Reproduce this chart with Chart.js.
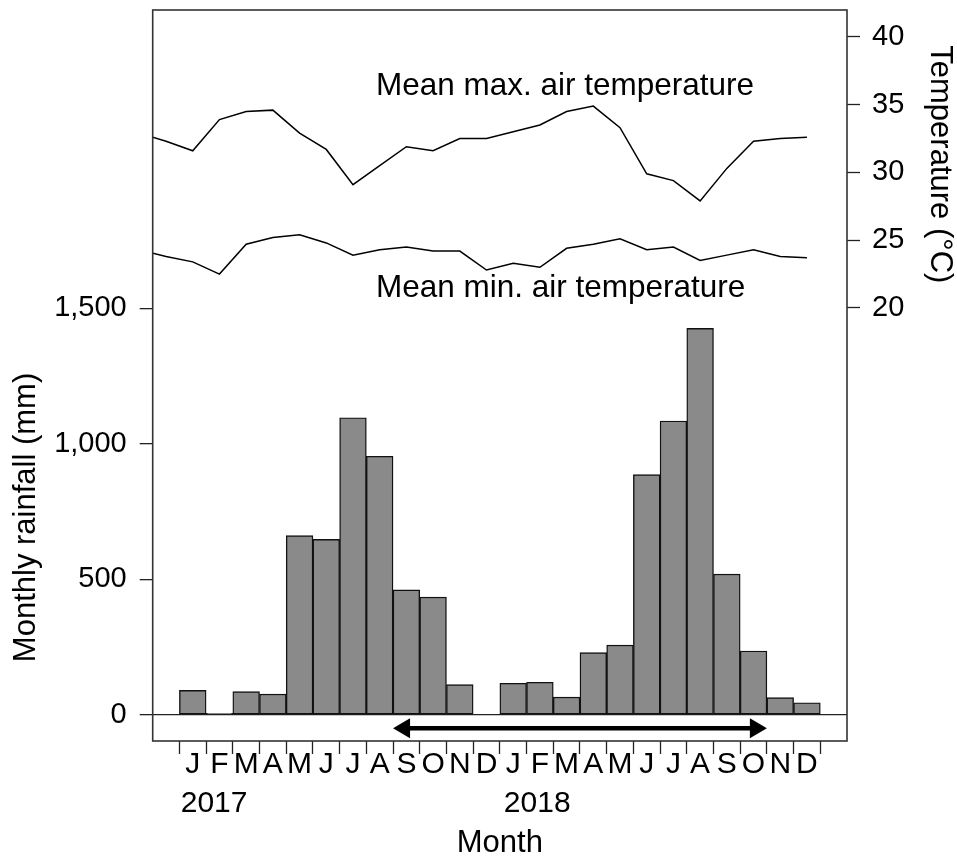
<!DOCTYPE html>
<html>
<head>
<meta charset="utf-8">
<script src="https://cdn.jsdelivr.net/npm/chart.js@4.4.0/dist/chart.umd.min.js"></script>
<style>
  html, body { margin: 0; padding: 0; background: #fff; }
  #wrap { width: 957px; height: 856px; }
</style>
</head>
<body>
<div id="wrap"><canvas id="myChart" width="957" height="856"></canvas></div>
<script>
// months Jan 2017 .. Dec 2018
var monthLabels = ["J", "F", "M", "A", "M", "J", "J", "A", "S", "O", "N", "D",
                   "J", "F", "M", "A", "M", "J", "J", "A", "S", "O", "N", "D"];
var yearLabels = ["2017", "2018"];
var rainfall = [90, 5, 85, 76, 661, 647, 1096, 954, 461, 434, 111, 0,
                116, 120, 65, 229, 257, 886, 1084, 1426, 519, 235, 63, 44];
// temperatures Nov 2016 .. Dec 2018 (first two months run off the left edge)
var maxTemp = [32.9, 32.3, 31.6, 33.9, 34.5, 34.6, 32.9, 31.7, 29.1, 30.5, 31.9, 31.6, 32.5, 32.5,
               33.0, 33.5, 34.5, 34.9, 33.3, 29.9, 29.4, 27.9, 30.3, 32.3, 32.5, 32.6];
var minTemp = [24.3, 23.8, 23.4, 22.5, 24.7, 25.2, 25.4, 24.8, 23.9, 24.3, 24.5, 24.2, 24.2, 22.8,
               23.3, 23.0, 24.4, 24.7, 25.1, 24.3, 24.5, 23.5, 23.9, 24.3, 23.8, 23.7];
var rainTicks = [0, 500, 1000, 1500];
var tempTicks = [20, 25, 30, 35, 40];
var arrowFrom = 8;   // Sep 2017
var arrowTo = 21;    // Oct 2018

var FONT = "'Liberation Sans', Arial, Helvetica, sans-serif";
Chart.defaults.font.family = FONT;
Chart.defaults.color = "#000";

// x ticks: bar edges (marks only), bar centres (month letters), year labels
var xTickValues = [];
var xTickText = [];
for (var i = 0; i <= monthLabels.length; i++) {
  xTickValues.push(i + 1);
  xTickText.push("");
  if (i < monthLabels.length) {
    xTickValues.push(i + 1.5);
    xTickText.push(monthLabels[i]);
  }
}
xTickValues.push(2.3, 14.4);
xTickText.push(["", yearLabels[0]], ["", yearLabels[1]]);

// no extra room for labels, the sizes below fix the plot box
function noPadding(scale) {
  scale.paddingTop = 0;
  scale.paddingBottom = 0;
  scale.paddingLeft = 0;
  scale.paddingRight = 0;
}

var extras = {
  id: "extras",
  afterDraw: function(chart) {
    var ctx = chart.ctx;
    var a = chart.chartArea;
    var x = chart.scales.x;
    var yRain = chart.scales.yRain;
    var yTemp = chart.scales.yTemp;
    ctx.save();

    // frame
    ctx.strokeStyle = "#333";
    ctx.lineWidth = 1.6;
    ctx.strokeRect(a.left, a.top, a.right - a.left, a.bottom - a.top);

    // double arrow under the bars
    var ay = yRain.getPixelForValue(-50);
    var x1 = x.getPixelForValue(arrowFrom + 1);
    var x2 = x.getPixelForValue(arrowTo + 2);
    ctx.fillStyle = "#000";
    ctx.strokeStyle = "#000";
    ctx.lineWidth = 4.6;
    ctx.beginPath();
    ctx.moveTo(x1 + 10, ay);
    ctx.lineTo(x2 - 10, ay);
    ctx.stroke();
    ctx.beginPath();
    ctx.moveTo(x1, ay);
    ctx.lineTo(x1 + 17, ay - 10);
    ctx.lineTo(x1 + 17, ay + 10);
    ctx.closePath();
    ctx.fill();
    ctx.beginPath();
    ctx.moveTo(x2, ay);
    ctx.lineTo(x2 - 17, ay - 10);
    ctx.lineTo(x2 - 17, ay + 10);
    ctx.closePath();
    ctx.fill();

    // line labels
    ctx.font = "31.5px " + FONT;
    ctx.textAlign = "left";
    ctx.textBaseline = "alphabetic";
    ctx.fillText("Mean max. air temperature", x.getPixelForValue(8.36), yTemp.getPixelForValue(35.7));
    ctx.fillText("Mean min. air temperature", x.getPixelForValue(8.36), yTemp.getPixelForValue(20.8));

    // axis titles
    ctx.font = "31px " + FONT;
    ctx.textAlign = "center";
    ctx.save();
    ctx.translate(yRain.left + 35, yRain.getPixelForValue(728));
    ctx.rotate(-Math.PI / 2);
    ctx.fillText("Monthly rainfall (mm)", 0, 0);
    ctx.restore();
    ctx.save();
    ctx.translate(yTemp.right - 26, yTemp.getPixelForValue(30.6));
    ctx.rotate(Math.PI / 2);
    ctx.fillText("Temperature (\u00B0C)", 0, 0);
    ctx.restore();

    ctx.restore();
  }
};

new Chart("myChart", {
  type: "bar",
  data: {
    datasets: [{
      type: "line",
      data: maxTemp.map(function(t, j) { return {x: j - 0.5, y: t}; }),
      yAxisID: "yTemp",
      borderColor: "#000",
      borderWidth: 1.5,
      pointRadius: 0,
      tension: 0
    }, {
      type: "line",
      data: minTemp.map(function(t, j) { return {x: j - 0.5, y: t}; }),
      yAxisID: "yTemp",
      borderColor: "#000",
      borderWidth: 1.5,
      pointRadius: 0,
      tension: 0
    }, {
      type: "bar",
      data: rainfall.map(function(v, i) { return {x: i + 1.5, y: v}; }),
      yAxisID: "yRain",
      backgroundColor: "#8a8a8a",
      borderColor: "#111",
      borderWidth: 1.4,
      borderSkipped: false,
      barThickness: "flex",
      categoryPercentage: 1,
      barPercentage: 1
    }]
  },
  options: {
    responsive: false,
    animation: false,
    layout: { padding: { top: 10, left: 0, right: 0, bottom: 0 } },
    plugins: {
      legend: { display: false },
      tooltip: { enabled: false }
    },
    scales: {
      x: {
        type: "linear",
        position: "bottom",
        min: 0,
        max: 26,
        offset: false,
        afterBuildTicks: function(scale) {
          scale.ticks = xTickValues.map(function(v) { return {value: v}; });
        },
        afterFit: function(scale) { scale.height = 115; noPadding(scale); },
        ticks: {
          autoSkip: false,
          maxRotation: 0,
          padding: -9,
          font: { size: 30, lineHeight: 1.3 },
          callback: function(value, index) { return xTickText[index]; }
        },
        grid: {
          offset: false,
          drawOnChartArea: false,
          tickLength: 13,
          tickWidth: 1.3,
          tickColor: function(ctx) {
            return ctx.tick && Number.isInteger(ctx.tick.value) ? "#222" : "rgba(0,0,0,0)";
          }
        },
        border: { display: false },
        title: {
          display: true,
          text: "Month",
          font: { size: 31, lineHeight: 1 },
          padding: { top: 0, bottom: -3 }
        }
      },
      yRain: {
        type: "linear",
        position: "left",
        min: -97,
        max: 2601,
        afterBuildTicks: function(scale) {
          scale.ticks = rainTicks.map(function(v) { return {value: v}; });
        },
        afterFit: function(scale) { scale.width = 152.7; noPadding(scale); },
        ticks: {
          autoSkip: false,
          padding: 13,
          font: { size: 29 },
          callback: function(value) { return value.toLocaleString("en-US"); }
        },
        grid: {
          lineWidth: 1.3,
          tickLength: 13,
          tickColor: "#222",
          color: function(ctx) {
            return ctx.tick && ctx.tick.value === 0 ? "#222" : "rgba(0,0,0,0)";
          }
        },
        border: { display: false }
      },
      yTemp: {
        type: "linear",
        position: "right",
        min: -11.96,
        max: 41.99,
        afterBuildTicks: function(scale) {
          scale.ticks = tempTicks.map(function(v) { return {value: v}; });
        },
        afterFit: function(scale) { scale.width = 110; noPadding(scale); },
        ticks: {
          autoSkip: false,
          padding: 12,
          font: { size: 29 }
        },
        grid: {
          drawOnChartArea: false,
          tickLength: 13,
          tickWidth: 1.3,
          tickColor: "#222"
        },
        border: { display: false }
      }
    }
  },
  plugins: [extras]
});
</script>
</body>
</html>
